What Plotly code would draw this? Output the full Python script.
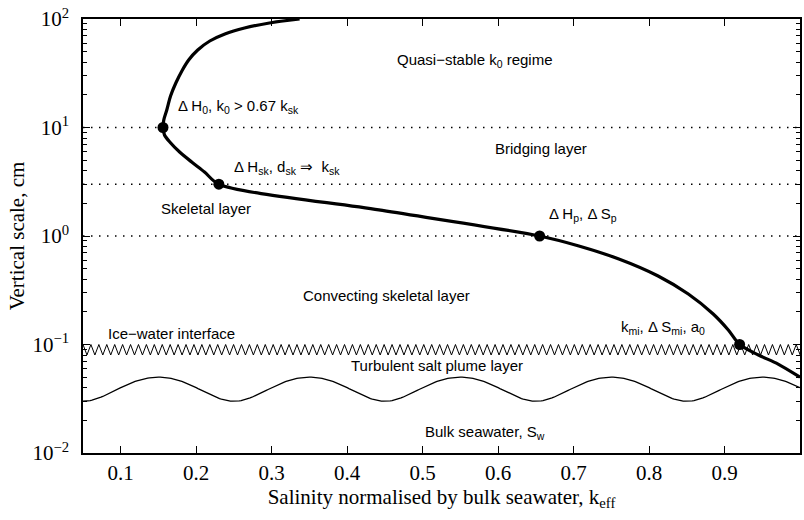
import numpy as np
import plotly.graph_objects as go

# Effective salinity profile through the growing ice (k_eff vs depth scale)
profile_k = [0.337, 0.297, 0.264, 0.238, 0.218, 0.202, 0.190, 0.181, 0.173,
             0.166, 0.161, 0.157, 0.156,
             0.158, 0.165, 0.178, 0.194, 0.211, 0.230,
             0.442, 0.655, 0.707, 0.760, 0.812, 0.852, 0.885, 0.905, 0.920,
             0.945, 0.971, 1.000]
profile_z = [100, 91.9, 82.6, 72.8, 62.7, 51.8, 41.9, 33.2, 25.7,
             19.5, 14.5, 11.7, 10.0,
             8.53, 7.35, 5.94, 4.81, 3.89, 3.0,
             1.74, 1.0, 0.809, 0.614, 0.428, 0.292, 0.191, 0.136, 0.10,
             0.080, 0.066, 0.050]

# Transition points marked on the profile
point_k = [0.156, 0.230, 0.655, 0.920]
point_z = [10.0, 3.0, 1.0, 0.1]

# Layer boundaries drawn as dotted lines
boundary_z = [10.0, 3.0, 1.0]

# Ice-water interface (zigzag band) and plume layer wave
interface_top, interface_bottom, interface_period = 0.10, 0.08, 0.0105
wave_mid, wave_amp, wave_period = 0.04, 0.01, 0.2

x_min, x_max = 0.05, 1.0
x_tickvals = [0.1, 0.2, 0.3, 0.4, 0.5, 0.6, 0.7, 0.8, 0.9, 1.0]
x_ticktext = ["0.1", "0.2", "0.3", "0.4", "0.5", "0.6", "0.7", "0.8", "0.9", "1"]
y_tickvals = [0.01, 0.1, 1, 10, 100]
y_ticktext = ["10<sup>\u22122</sup>", "10<sup>\u22121</sup>", "10<sup>0</sup>",
              "10<sup>1</sup>", "10<sup>2</sup>"]

SANS = "Liberation Sans, Arial, sans-serif"
SERIF = "Liberation Serif, Times New Roman, serif"

fig = go.Figure()

for z in boundary_z:
    fig.add_trace(go.Scatter(x=[x_min, x_max], y=[z, z], mode="lines",
                             line=dict(color="black", width=1.4, dash="1.5px,6.5px"),
                             hoverinfo="skip", showlegend=False))

# zigzag interface
n_half = int(round((x_max - x_min) / (interface_period / 2)))
zx = x_min + np.arange(n_half + 1) * interface_period / 2
zy = np.where(np.arange(n_half + 1) % 2 == 0, interface_top, interface_bottom)
fig.add_trace(go.Scatter(x=zx, y=zy, mode="lines",
                         line=dict(color="black", width=1),
                         hoverinfo="skip", showlegend=False))

# wavy plume-layer boundary
wx = np.linspace(x_min, x_max, 400)
wy = wave_mid - wave_amp * np.cos(2 * np.pi * (wx - x_min) / wave_period)
fig.add_trace(go.Scatter(x=wx, y=wy, mode="lines",
                         line=dict(color="black", width=1.3),
                         hoverinfo="skip", showlegend=False))

fig.add_trace(go.Scatter(x=profile_k, y=profile_z, mode="lines",
                         line=dict(color="black", width=3.2, shape="spline", smoothing=0.8),
                         hoverinfo="skip", showlegend=False))
fig.add_trace(go.Scatter(x=point_k, y=point_z, mode="markers",
                         marker=dict(color="black", size=11),
                         hoverinfo="skip", showlegend=False))


def px_to_x(px):
    return x_min + (px - 83) / 719.0 * (x_max - x_min)


def py_to_logy(py):
    return 2 - (py - 19) / 108.5


labels = [
    ("Quasi\u2212stable k<sub>0</sub> regime", 476, 60, "center"),
    ("\u0394 H<sub>0</sub>, k<sub>0</sub> &gt; 0.67 k<sub>sk</sub>", 176, 106, "left"),
    ("Bridging layer", 542, 148, "center"),
    ("\u0394 H<sub>sk</sub>, d<sub>sk</sub> \u21d2  k<sub>sk</sub>", 232, 167, "left"),
    ("Skeletal layer", 206, 208, "center"),
    ("\u0394 H<sub>p</sub>, \u0394 S<sub>p</sub>", 548, 214, "left"),
    ("Convecting skeletal layer", 387, 295, "center"),
    ("k<sub>mi</sub>, \u0394 S<sub>mi</sub>, a<sub>0</sub>", 620, 327, "left"),
    ("Ice\u2212water interface", 106, 333, "left"),
    ("Turbulent salt plume layer", 350, 365, "left"),
    ("Bulk seawater, S<sub>w</sub>", 424, 432, "left"),
]
for text, px, py, anchor in labels:
    fig.add_annotation(x=px_to_x(px), y=py_to_logy(py), text=text, showarrow=False,
                       xanchor=anchor, yanchor="middle",
                       font=dict(family=SANS, size=15, color="black"))

fig.update_layout(
    width=804, height=520,
    margin=dict(l=83, r=2, t=19, b=67),
    paper_bgcolor="white", plot_bgcolor="white",
    showlegend=False,
)
fig.update_xaxes(
    range=[x_min, x_max], tickvals=x_tickvals, ticktext=x_ticktext,
    ticks="inside", ticklen=7, tickwidth=1, tickcolor="black",
    showline=True, linecolor="black", linewidth=1.5, mirror="ticks",
    showgrid=False, zeroline=False,
    tickfont=dict(family=SERIF, size=21, color="black"),
    title=dict(text="Salinity normalised by bulk seawater, k<sub>eff</sub>",
               font=dict(family=SERIF, size=21, color="black"), standoff=3),
)
fig.update_yaxes(
    type="log", range=[-2, 2], tickvals=y_tickvals, ticktext=y_ticktext,
    ticks="inside", ticklen=7, tickwidth=1, tickcolor="black",
    minor=dict(ticks="inside", ticklen=4, tickcolor="black", dtick="D1", showgrid=False),
    showline=True, linecolor="black", linewidth=1.5, mirror="ticks",
    showgrid=False, zeroline=False, ticklabelstandoff=8,
    tickfont=dict(family=SERIF, size=21, color="black"),
    title=dict(text="Vertical scale, cm",
               font=dict(family=SERIF, size=21, color="black"), standoff=2),
)

fig.write_html("out.html")
